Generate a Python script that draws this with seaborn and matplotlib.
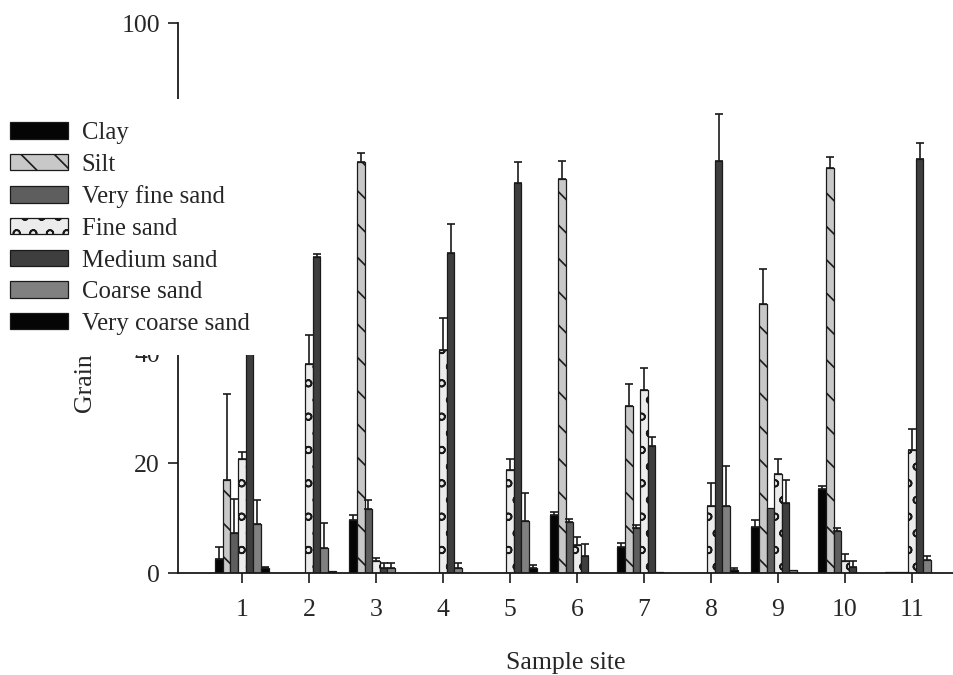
import numpy as np
import pandas as pd
import matplotlib
matplotlib.use("Agg")
import matplotlib.pyplot as plt
from matplotlib.patches import Patch, Rectangle
import seaborn as sns

# ---------------- data ----------------
sites = ["1", "2", "3", "4", "5", "6", "7", "8", "9", "10", "11"]
fractions = ["Clay", "Silt", "Very fine sand", "Fine sand",
             "Medium sand", "Coarse sand", "Very coarse sand"]

clay = [2.5, 0, 9.6, 0, 0, 10.5, 4.8, 0, 8.4, 15.3, 0.1]
clay_err = [2.3, 0, 0.9, 0, 0, 0.6, 0.7, 0, 1.2, 0.6, 0]
silt = [17.0, 0, 74.7, 0, 0, 71.6, 30.4, 0, 49.0, 73.6, 0.2]
silt_err = [15.5, 0, 1.7, 0, 0, 3.3, 3.9, 0, 6.3, 2.1, 0]
very_fine = [7.3, 0, 11.6, 0, 0, 9.3, 8.1, 0, 11.8, 7.7, 0.2]
very_fine_err = [6.1, 0, 1.6, 0, 0, 0.6, 0.6, 0, 0, 0.4, 0]
fine = [20.8, 38.0, 2.2, 40.5, 18.7, 5.1, 33.3, 12.2, 18.0, 2.2, 22.4]
fine_err = [1.2, 5.3, 0.5, 5.9, 2.1, 1.5, 3.9, 4.1, 2.8, 1.2, 3.8]
medium = [55.0, 57.5, 1.0, 58.1, 71.0, 3.1, 23.1, 74.9, 12.7, 1.15, 75.2]
medium_err = [4.0, 0.5, 0.8, 5.3, 3.7, 2.2, 1.6, 8.5, 4.3, 1.0, 2.9]
coarse = [8.9, 4.6, 1.0, 1.0, 9.5, 0, 0.2, 12.2, 0.5, 0, 2.4]
coarse_err = [4.4, 4.5, 0.8, 0.8, 5.0, 0, 0, 7.3, 0, 0, 0.7]
very_coarse = [0.85, 0.4, 0, 0, 0.85, 0, 0, 0.55, 0, 0, 0]
very_coarse_err = [0.25, 0, 0, 0, 0.6, 0, 0, 0.45, 0, 0, 0]

yticks = [0, 20, 40, 100]

values = [clay, silt, very_fine, fine, medium, coarse, very_coarse]
errors = [clay_err, silt_err, very_fine_err, fine_err, medium_err,
          coarse_err, very_coarse_err]

colors = ["#050505", "#c8c8c8", "#5e5e5e", "#ececec",
          "#3e3e3e", "#808080", "#050505"]
hatches = ["", "\\", "", "o", "", "", ""]

rows = []
for f, vals in zip(fractions, values):
    for s, v in zip(sites, vals):
        rows.append({"site": s, "fraction": f, "value": v})
df = pd.DataFrame(rows)

# ---------------- style ----------------
sns.set_style("ticks")
plt.rcParams["font.family"] = ["Liberation Serif", "DejaVu Serif"]
plt.rcParams["hatch.linewidth"] = 1.2
plt.rcParams["hatch.color"] = "#1a1a1a"

W, H = 954, 675
fig = plt.figure(figsize=(W / 100, H / 100), dpi=100)
ax = fig.add_axes([178 / W, (H - 573) / H, (W - 178) / W, 550 / H])

sns.barplot(data=df, x="site", y="value", hue="fraction",
            order=sites, hue_order=fractions,
            palette=dict(zip(fractions, colors)), saturation=1,
            width=0.8, edgecolor="#1a1a1a", linewidth=0.9,
            errorbar=None, legend=False, ax=ax)

for cont, h, vals, errs in zip(ax.containers, hatches, values, errors):
    xs, ys, es = [], [], []
    for bar, v, e in zip(cont, vals, errs):
        if h:
            bar.set_hatch(h)
        if e > 0:
            xs.append(bar.get_x() + bar.get_width() / 2)
            ys.append(v)
            es.append(e)
    if xs:
        ax.errorbar(xs, ys, yerr=[np.zeros(len(es)), es], fmt="none",
                    ecolor="#1a1a1a", elinewidth=1.2, capsize=3.2,
                    capthick=1.2, zorder=3)

ax.set_ylim(0, 100)
ax.set_xlim(-0.955, 10.627)
ax.set_yticks(yticks)
for side in ["top", "right"]:
    ax.spines[side].set_visible(False)
for side in ["left", "bottom"]:
    ax.spines[side].set_linewidth(1.3)
    ax.spines[side].set_color("#1a1a1a")
ax.tick_params(axis="both", direction="out", length=7, width=1.2,
               color="#1a1a1a", labelsize=18.5)
ax.tick_params(axis="y", pad=6)
ax.tick_params(axis="x", pad=12)

ax.set_xlabel("Sample site", fontsize=18.5, labelpad=22)
ax.set_ylabel("Grain size distribution (%)", fontsize=18.5)
ax.yaxis.label.set_ha("left")
ax.yaxis.set_label_coords(-0.103, (573 - 413) / 550)

# white block behind the legend (hides part of the y-axis, as in reference)
fig.add_artist(Rectangle((0, (H - 355) / H), 262 / W, (355 - 99) / H,
                         transform=fig.transFigure, facecolor="white",
                         edgecolor="none", zorder=2))

handles = [Patch(facecolor=c, edgecolor="#1a1a1a", hatch=h, linewidth=0.9)
           for c, h in zip(colors, hatches)]
fig.legend(handles, fractions, loc="upper left",
           bbox_to_anchor=(10 / W, (H - 122) / H), frameon=False,
           fontsize=17.8, handlelength=2.35, handleheight=0.65,
           handletextpad=0.55, labelspacing=0.39, borderpad=0,
           borderaxespad=0)

fig.savefig("out.png", dpi=100)
